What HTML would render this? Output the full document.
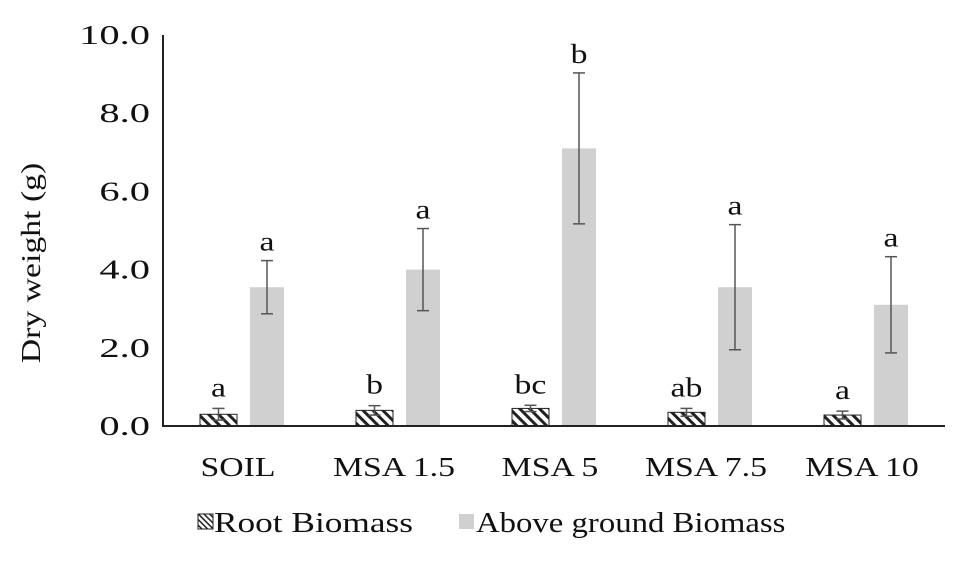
<!DOCTYPE html>
<html><head><meta charset="utf-8"><style>
body{margin:0;background:#fff;}
svg text{font-family:"Liberation Serif",serif;fill:#111;}
</style></head><body>
<svg id="chart" width="974" height="566">
<defs><pattern id="hatch" width="7" height="7" patternUnits="userSpaceOnUse" patternTransform="rotate(-45)"><rect width="7" height="7" fill="#fff"/><rect width="3" height="7" fill="#222"/></pattern>
<pattern id="hatch2" width="4" height="4" patternUnits="userSpaceOnUse" patternTransform="rotate(-45)"><rect width="4" height="4" fill="#fff"/><rect width="1.5" height="4" fill="#222"/></pattern></defs>
<g id="g"></g>
<rect x="198" y="514" width="15" height="15" fill="url(#hatch2)" stroke="#222"/>
<text class="s" data-k="1.26" x="214" y="532" font-size="28">Root Biomass</text>
<rect x="459" y="514" width="15" height="15" fill="#d0d0d0"/>
<text class="s" data-k="1.17" x="476" y="532" font-size="28">Above ground Biomass</text>
</svg>
<script>
const categories=["SOIL","MSA 1.5","MSA 5","MSA 7.5","MSA 10"];
const rootValues=[0.3,0.4,0.45,0.35,0.28];
const rootErr=[0.15,0.12,0.08,0.1,0.1];
const rootLetters=["a","b","bc","ab","a"];
const aboveValues=[3.55,4.0,7.1,3.55,3.1];
const aboveErr=[0.68,1.05,1.93,1.6,1.23];
const aboveLetters=["a","a","b","a","a"];
const yTicks=[0,2,4,6,8,10];
const yTickLabels=["0.0","2.0","4.0","6.0","8.0","10.0"];
const NS="http://www.w3.org/2000/svg";
const g=document.getElementById('g');
const x0=163,band=156,base=426,ppu=39.1,FS=27;
const y=v=>base-v*ppu;
function el(t,a,txt){const e=document.createElementNS(NS,t);for(const k in a)e.setAttribute(k,a[k]);if(txt!==undefined)e.textContent=txt;g.appendChild(e);if(t==='text')e.classList.add('s');return e;}
yTicks.forEach((t,i)=>{const e=el('text',{x:150,y:y(t)+9,'text-anchor':'end','font-size':FS,'data-k':1.5},yTickLabels[i]);

});
const yt=el('text',{x:0,y:0,transform:'translate(40,263) rotate(-90)','text-anchor':'middle','font-size':FS},'Dry weight (g)');


function errBar(cx,v,e,name){const gg=el('g',{stroke:'#555','stroke-width':1.5});


[[cx,y(v-e),cx,y(v+e)],[cx-6,y(v-e),cx+6,y(v-e)],[cx-6,y(v+e),cx+6,y(v+e)]].forEach(l=>{const ln=document.createElementNS(NS,'line');ln.setAttribute('x1',l[0]);ln.setAttribute('y1',l[1]);ln.setAttribute('x2',l[2]);ln.setAttribute('y2',l[3]);gg.appendChild(ln);});}
categories.forEach((c,i)=>{
 const bx=x0+i*band;
 const r=el('rect',{x:bx+37,y:y(rootValues[i]),width:37,height:rootValues[i]*ppu,fill:'url(#hatch)',stroke:'#222','stroke-width':1});
 
 
 errBar(bx+55.5,rootValues[i],rootErr[i],'root-error-bar');
 const rl=el('text',{x:bx+55.5,y:y(rootValues[i]+rootErr[i])-12,'text-anchor':'middle','font-size':FS},rootLetters[i]);
 
 
 const a=el('rect',{x:bx+87,y:y(aboveValues[i]),width:34,height:aboveValues[i]*ppu,fill:'#d0d0d0'});
 
 
 errBar(bx+104,aboveValues[i],aboveErr[i],'above-error-bar');
 const al=el('text',{x:bx+104,y:y(aboveValues[i]+aboveErr[i])-10,'text-anchor':'middle','font-size':FS},aboveLetters[i]);
 
 
 const cl=el('text',{x:bx+75,y:476,'text-anchor':'middle','font-size':FS},c);
 
 
});
const ax=el('path',{d:`M${x0},${y(10)} V${base} H${x0+5*band+2}`,fill:'none',stroke:'#222','stroke-width':2});


document.querySelectorAll('text.s').forEach(t=>{const k=parseFloat(t.getAttribute('data-k')||'1.25');const w=t.getComputedTextLength();t.setAttribute('textLength',w*k);t.setAttribute('lengthAdjust','spacingAndGlyphs');});
</script>
</body></html>
